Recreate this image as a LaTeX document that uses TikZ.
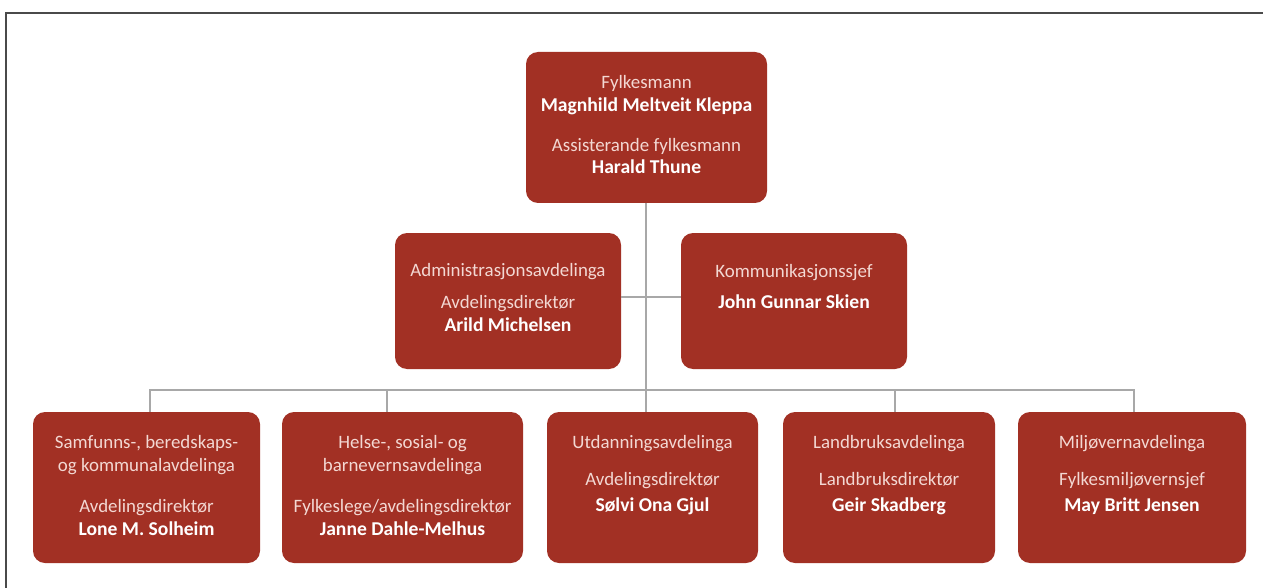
\documentclass[tikz,border=0pt]{standalone}
\usepackage{fontspec}
\setmainfont{Carlito}
\definecolor{boxred}{HTML}{A23024}
\definecolor{lighttext}{HTML}{F3D8D3}
\definecolor{linegray}{HTML}{A8A8A8}
\definecolor{framegray}{HTML}{4A4A4A}
\begin{document}
\begin{tikzpicture}[x=1pt,y=-1pt,
  box/.style={draw=none, fill=boxred, rounded corners=12pt, inner sep=0pt},
  lt/.style={text=lighttext, font=\fontsize{18.9}{22}\selectfont, text height=12pt, text depth=4pt, inner sep=0pt},
  bd/.style={text=white, font=\fontsize{19.6}{22}\selectfont\bfseries, text height=12pt, text depth=4pt, inner sep=0pt},
  conn/.style={draw=linegray, line width=2.3pt}]
\useasboundingbox (0,0) rectangle (1263,588);
% frame
\draw[framegray, line width=1.6pt] (6,588) -- (6,13) -- (1263,13);

% boxes
\node[box, minimum width=241pt, minimum height=151pt] (top) at (646.5,127.5) {};
\node[box, minimum width=226pt, minimum height=136pt] (ml) at (508,301) {};
\node[box, minimum width=226pt, minimum height=136pt] (mr) at (794,301) {};
\node[box, minimum width=227pt, minimum height=151pt] (b1) at (146.5,487.5) {};
\node[box, minimum width=241pt, minimum height=151pt] (b2) at (402.5,487.5) {};
\node[box, minimum width=211pt, minimum height=151pt] (b3) at (652.5,487.5) {};
\node[box, minimum width=212pt, minimum height=151pt] (b4) at (889,487.5) {};
\node[box, minimum width=228pt, minimum height=151pt] (b5) at (1132,487.5) {};

% connectors
\coordinate (hj) at (646,297);
\coordinate (busL) at (150,390);
\coordinate (d2) at (387,390);
\coordinate (d4) at (895,390);
\coordinate (busR) at (1134,390);
\draw[conn] (top.south -| hj) -- (hj |- b3.north);
\draw[conn] (ml.east |- hj) -- (mr.west |- hj);
\draw[conn] (busL |- b1.north) -- (busL) -- (busR) -- (busR |- b5.north);
\draw[conn] (d2) -- (d2 |- b2.north);
\draw[conn] (d4) -- (d4 |- b4.north);

% texts: top
\node[lt] (t1) at (646.5,85) {Fylkesmann};
\node[bd] (t2) at (646.5,108) {Magnhild Meltveit Kleppa};
\node[lt] (t3) at (646.5,148) {Assisterande fylkesmann};
\node[bd] (t4) at (646.5,170) {Harald Thune};
% middle left
\node[lt] (m1) at (508,272) {Administrasjonsavdelinga};
\node[lt] (m2) at (508,304) {Avdelingsdirektør};
\node[bd] (m3) at (508,327) {Arild Michelsen};
% middle right
\node[lt] (r1) at (794,273) {Kommunikasjonssjef};
\node[bd] (r2) at (794,304) {John Gunnar Skien};
% bottom 1
\node[lt] (a1) at (146.5,444) {Samfunns-, beredskaps-};
\node[lt] (a2) at (146.5,467) {og kommunalavdelinga};
\node[lt] (a3) at (146.5,508) {Avdelingsdirektør};
\node[bd] (a4) at (146.5,531) {Lone M. Solheim};
% bottom 2
\node[lt] (c1) at (402.5,444) {Helse-, sosial- og};
\node[lt] (c2) at (402.5,467) {barnevernsavdelinga};
\node[lt] (c3) at (402.5,508) {Fylkeslege/avdelingsdirektør};
\node[bd] (c4) at (402.5,531) {Janne Dahle-Melhus};
% bottom 3
\node[lt] (e1) at (652.5,444) {Utdanningsavdelinga};
\node[lt] (e2) at (652.5,481) {Avdelingsdirektør};
\node[bd] (e3) at (652.5,507) {Sølvi Ona Gjul};
% bottom 4
\node[lt] (f1) at (889,444) {Landbruksavdelinga};
\node[lt] (f2) at (889,481) {Landbruksdirektør};
\node[bd] (f3) at (889,507) {Geir Skadberg};
% bottom 5
\node[lt] (g1) at (1132,444) {Miljøvernavdelinga};
\node[lt] (g2) at (1132,481) {Fylkesmiljøvernsjef};
\node[bd] (g3) at (1132,507) {May Britt Jensen};
\end{tikzpicture}
\end{document}
